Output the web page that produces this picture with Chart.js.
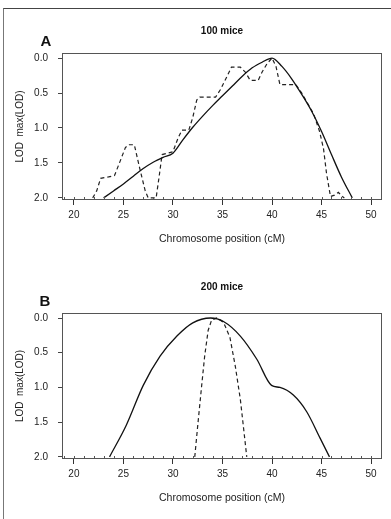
<!DOCTYPE html>
<html>
<head>
<meta charset="utf-8">
<script src="https://cdn.jsdelivr.net/npm/chart.js@4.4.0/dist/chart.umd.min.js"></script>
<style>
  body { margin: 0; background: #fff; }
  #page { position: relative; width: 391px; height: 519px; overflow: hidden; }
  #frame { position: absolute; left: 3px; top: 8px; right: -2px; bottom: -2px;
           border-left: 1px solid #777; border-top: 1px solid #444; }
  canvas { position: absolute; left: 0; }
</style>
</head>
<body>
<div id="page">
  <div id="frame"></div>
  <canvas id="chartA" width="391" height="260" style="top:0"></canvas>
  <canvas id="chartB" width="391" height="259" style="top:260px"></canvas>
</div>
<script>
const xTicks = [20, 25, 30, 35, 40, 45, 50];
const yTicks = [0, 0.5, 1, 1.5, 2];

// A: 100 mice
const posA_solid = [23, 24, 25, 26, 27, 28, 29, 30, 31, 32, 33, 34, 35, 36, 37, 38, 39, 40, 41, 42, 43, 44, 45, 46, 47, 48.1];
const lodA_solid = [2.0, 1.9, 1.8, 1.69, 1.58, 1.49, 1.42, 1.36, 1.17, 0.99, 0.83, 0.68, 0.54, 0.40, 0.26, 0.14, 0.06, 0.0, 0.12, 0.3, 0.52, 0.76, 1.05, 1.38, 1.7, 2.0];
const posA_dash = [21.9, 22.3, 22.7, 23.5, 24.1, 24.6, 25.2, 25.5, 26.1, 26.6, 27.2, 27.5, 28.3, 28.6, 28.9, 29.5,
                   30.0, 30.5, 30.9, 31.6, 32.0, 32.4, 32.7, 34.3, 34.8, 35.5, 35.9, 36.8, 37.3, 37.8, 38.6, 39.0,
                   39.5, 40.0, 40.4, 40.8, 42.4, 43.0, 43.6, 44.2, 44.8, 45.2, 45.5, 45.9, 46.3, 46.7, 47.1, 47.3];
const lodA_dash = [2.0, 1.9, 1.72, 1.70, 1.68, 1.5, 1.28, 1.24, 1.24, 1.55, 1.9, 2.0, 2.0, 1.7, 1.38, 1.36,
                   1.34, 1.15, 1.03, 1.03, 0.85, 0.6, 0.56, 0.56, 0.45, 0.25, 0.13, 0.13, 0.2, 0.32, 0.32, 0.2,
                   0.08, 0.0, 0.12, 0.38, 0.38, 0.5, 0.65, 0.8, 1.05, 1.3, 1.65, 1.98, 1.96, 1.92, 1.98, 2.0];

// B: 200 mice
const posB_solid = [23.6, 25.3, 27.0, 28.7, 30.4, 32.0, 33.8, 35.1, 36.8, 38.45, 39.95, 40.8, 42.15, 43.5, 44.85, 45.8];
const lodB_solid = [2.0, 1.54, 0.97, 0.55, 0.26, 0.07, 0.0, 0.05, 0.26, 0.59, 0.97, 1.0, 1.11, 1.35, 1.73, 2.0];
const posB_dash = [32.2, 32.5, 32.9, 33.2, 33.55, 33.9, 34.4, 35.1, 35.75, 36.3, 36.8, 37.1, 37.45];
const lodB_dash = [2.0, 1.55, 0.97, 0.55, 0.18, 0.03, 0.0, 0.06, 0.28, 0.7, 1.17, 1.55, 2.0];

const FONT = '"Liberation Sans", Arial, sans-serif';
const pts = (xs, ys) => xs.map((x, i) => ({ x: x, y: ys[i] }));

// plot box, small cM marks on the axis, panel title and letter
const panelDecor = {
  id: 'panelDecor',
  afterDraw(chart, args, opts) {
    const { ctx, chartArea: a } = chart;
    const x = chart.scales.x;
    ctx.save();
    ctx.strokeStyle = '#555';
    ctx.lineWidth = 1;
    ctx.strokeRect(a.left + 0.5, a.top + 0.5, a.width - 1, a.height - 1);
    ctx.beginPath();
    for (let v = Math.ceil(x.min); v <= x.max; v++) {
      const px = Math.round(x.getPixelForValue(v)) + 0.5;
      ctx.moveTo(px, a.bottom);
      ctx.lineTo(px, a.bottom - 3);
    }
    ctx.stroke();
    ctx.fillStyle = '#111';
    ctx.textAlign = 'center';
    ctx.textBaseline = 'middle';
    ctx.font = 'bold 10px ' + FONT;
    ctx.fillText(opts.title, (a.left + a.right) / 2, opts.titleY);
    ctx.font = 'bold 15px ' + FONT;
    ctx.fillText(opts.letter, opts.letterX, 42);
    ctx.restore();
  }
};

function makeChart(id, title, letter, titleY, letterX, solid, dashed) {
  return new Chart(id, {
    type: 'line',
    data: {
      datasets: [{
        data: solid,
        borderColor: '#111',
        borderWidth: 1.3,
        pointRadius: 0,
        cubicInterpolationMode: 'monotone'
      }, {
        data: dashed,
        borderColor: '#222',
        borderWidth: 1.2,
        borderDash: [4, 3],
        pointRadius: 0,
        tension: 0
      }]
    },
    options: {
      responsive: false,
      animation: false,
      layout: { padding: { top: 53, left: 0, right: 9, bottom: 10 } },
      plugins: {
        legend: { display: false },
        tooltip: { enabled: false },
        panelDecor: { title: title, letter: letter, titleY: titleY, letterX: letterX }
      },
      scales: {
        x: {
          type: 'linear',
          min: 18.8,
          max: 51.1,
          afterBuildTicks: s => { s.ticks = xTicks.map(v => ({ value: v })); },
          afterFit: s => { s.height = 50; },
          grid: { drawOnChartArea: false, tickLength: 5, color: '#333' },
          border: { display: false },
          ticks: { color: '#222', padding: 4, font: { family: FONT, size: 10 } },
          title: {
            display: true,
            text: 'Chromosome position (cM)',
            color: '#222',
            font: { family: FONT, size: 10.5 },
            padding: { top: 0, bottom: 5 }
          }
        },
        y: {
          type: 'linear',
          reverse: true,
          min: -0.072,
          max: 2.03,
          afterBuildTicks: s => { s.ticks = yTicks.map(v => ({ value: v })); },
          afterFit: s => { s.width = 62; },
          grid: { drawOnChartArea: false, tickLength: 4, color: '#444' },
          border: { display: false },
          ticks: { color: '#222', padding: 10, font: { family: FONT, size: 10 },
                   callback: v => v.toFixed(1) },
          title: {
            display: true,
            text: 'LOD  max(LOD)',
            color: '#222',
            font: { family: FONT, size: 10 },
            padding: { top: 14, bottom: 0 }
          }
        }
      }
    },
    plugins: [panelDecor]
  });
}

makeChart('chartA', '100 mice', 'A', 31, 46,
  pts(posA_solid, lodA_solid), pts(posA_dash, lodA_dash));
makeChart('chartB', '200 mice', 'B', 27, 45,
  pts(posB_solid, lodB_solid), pts(posB_dash, lodB_dash));
</script>
</body>
</html>
